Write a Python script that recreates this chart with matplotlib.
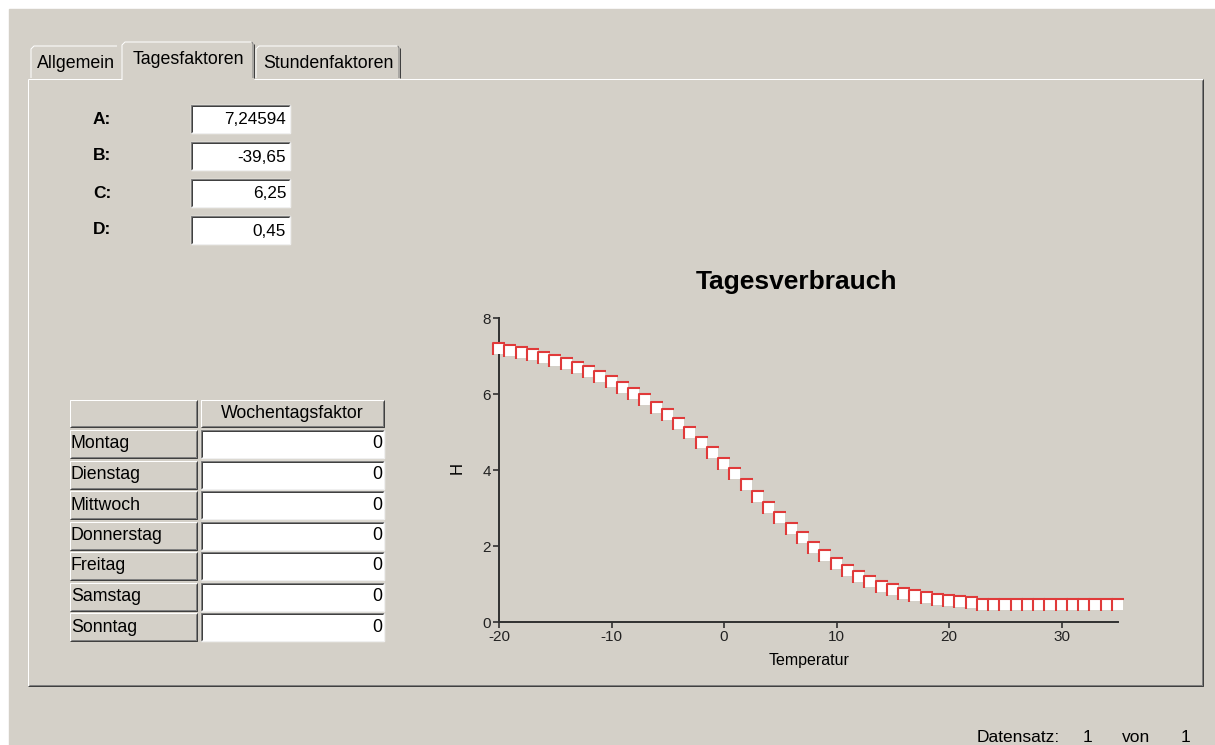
import matplotlib
matplotlib.use("Agg")
import matplotlib.pyplot as plt
import numpy as np
from matplotlib.patches import Rectangle
from matplotlib.path import Path
from matplotlib.markers import MarkerStyle

plt.rcParams['font.family'] = ['Liberation Sans', 'DejaVu Sans']
plt.rcParams['axes.unicode_minus'] = False

# --- data ---
param_names = ["A:", "B:", "C:", "D:"]
param_values = ["7,24594", "-39,65", "6,25", "0,45"]
weekdays = ["Montag", "Dienstag", "Mittwoch", "Donnerstag", "Freitag", "Samstag", "Sonntag"]
weekday_factor = [0, 0, 0, 0, 0, 0, 0]
tabs = ["Allgemein", "Tagesfaktoren", "Stundenfaktoren"]

temperature = np.arange(-20, 36)
h_values = [7.19, 7.14, 7.08, 7.02, 6.95, 6.87, 6.78, 6.68, 6.57, 6.45,
            6.32, 6.17, 6.01, 5.84, 5.64, 5.44, 5.21, 4.97, 4.72, 4.45,
            4.17, 3.89, 3.60, 3.30, 3.01, 2.73, 2.46, 2.20, 1.95, 1.73,
            1.53, 1.35, 1.19, 1.05, 0.93, 0.83, 0.75, 0.68, 0.63, 0.58,
            0.55, 0.52, 0.50, 0.45, 0.45, 0.45, 0.45, 0.45, 0.45, 0.45,
            0.45, 0.45, 0.45, 0.45, 0.45, 0.45]

BG = '#D4D0C8'
SHADOW = '#808080'
DARK = '#404040'
PX = 0.72  # one pixel in points at dpi 100
UI_FS = 12.8

W, H = 1215, 745
fig = plt.figure(figsize=(W / 100, H / 100), dpi=100)
fig.patch.set_facecolor('white')

ui = fig.add_axes([0, 0, 1, 1])
ui.set_xlim(0, W)
ui.set_ylim(H, 0)
ui.axis('off')
ui.add_patch(Rectangle((9, 9), W, H, color=BG, zorder=0))


def line(xs, ys, c, lw=1):
    ui.plot(xs, ys, color=c, lw=lw * PX, solid_capstyle='butt', zorder=2)


def raised(x0, y0, x1, y1):
    ui.add_patch(Rectangle((x0, y0), x1 - x0, y1 - y0, color=BG, zorder=1))
    line([x0, x0, x1], [y1, y0, y0], 'white')
    line([x0 + 1, x1 - 1, x1 - 1], [y1 - 1, y1 - 1, y0 + 1], SHADOW)
    line([x0, x1, x1], [y1, y1, y0], DARK)


def sunken(x0, y0, x1, y1):
    ui.add_patch(Rectangle((x0, y0), x1 - x0, y1 - y0, color='white', zorder=1))
    line([x0, x0, x1], [y1, y0, y0], SHADOW)
    line([x0 + 1, x0 + 1, x1 - 1], [y1 - 1, y0 + 1, y0 + 1], DARK)
    line([x0, x1, x1], [y1, y1, y0], '#F0F0F0')


# tab panel
px0, py0, px1, py1 = 28, 79, 1203, 686
line([px0, px0], [py1, py0], 'white')
line([px0, 122], [py0, py0], 'white')
line([254, px1], [py0, py0], 'white')
line([px0 + 1, px1 - 1, px1 - 1], [py1 - 1, py1 - 1, py0 + 1], SHADOW)
line([px0, px1, px1], [py1, py1, py0], DARK)

# tabs
tab_boxes = [(31, 120, 46), (122, 254, 42), (256, 400, 46)]
for name, (tx0, tx1, ty) in zip(tabs, tab_boxes):
    sel = name == "Tagesfaktoren"
    line([tx0, tx0, tx0 + 3, tx1 - 3], [py0 if sel else py0 - 1, ty + 3, ty, ty], 'white')
    if name != "Allgemein":
        line([tx1 - 2, tx1 - 1, tx1 - 1], [ty, ty + 2, py0 - 1], SHADOW)
        line([tx1, tx1], [ty + 2, py0 - 1], DARK)
    ui.text((tx0 + tx1) / 2, ty + 17, name,
            ha='center', va='center', fontsize=UI_FS, color='black')

# parameter fields
for i, (nm, val) in enumerate(zip(param_names, param_values)):
    yc = 119 + i * 37
    ui.text(93, yc, nm, ha='left', va='center', fontsize=12.5, weight='bold')
    sunken(191, yc - 14, 290, yc + 14)
    ui.text(286, yc + 1, val, ha='right', va='center', fontsize=12.3, zorder=3)

# weekday table
raised(70, 400, 197, 427)
raised(201, 400, 384, 427)
ui.text(292, 414, "Wochentagsfaktor", ha='center', va='center', fontsize=UI_FS, zorder=3)
for i, (day, f) in enumerate(zip(weekdays, weekday_factor)):
    y0 = 430 + i * 30.5
    raised(70, y0, 197, y0 + 28)
    ui.text(71, y0 + 14, day, ha='left', va='center', fontsize=UI_FS, zorder=3)
    sunken(201, y0, 384, y0 + 28)
    ui.text(382, y0 + 14, str(f), ha='right', va='center', fontsize=UI_FS, zorder=3)

# footer
ui.text(977, 737, "Datensatz:", ha='left', va='center', fontsize=12.5)
ui.text(1088, 737, "1", ha='center', va='center', fontsize=12.5)
ui.text(1136, 737, "von", ha='center', va='center', fontsize=12.5)
ui.text(1185, 737, "1", ha='center', va='center', fontsize=12.5)

# chart
ax = fig.add_axes([499 / W, 1 - 622 / H, 619 / W, 304 / H])
ax.patch.set_visible(False)
ax.set_xlim(-20, 35)
ax.set_ylim(0, 8)
for s in ['top', 'right']:
    ax.spines[s].set_visible(False)
for s in ['left', 'bottom']:
    ax.spines[s].set_color('#303030')
    ax.spines[s].set_linewidth(1.4)
ax.set_xticks([-20, -10, 0, 10, 20, 30])
ax.set_yticks([0, 2, 4, 6, 8])
ax.tick_params(direction='out', length=4, width=1.2, color='#303030',
               labelsize=11, labelcolor='#222222', pad=2)

corner = MarkerStyle(Path([(-1, -1), (-1, 1), (1, 1)],
                          [Path.MOVETO, Path.LINETO, Path.LINETO]),
                     fillstyle='none', joinstyle='miter')
ax.plot(temperature, h_values, ls='none', marker='s', ms=7.8,
        mfc='white', mec='white', mew=0, clip_on=False, zorder=3)
ax.plot(temperature, h_values, ls='none', marker=corner, ms=8,
        mfc='none', mec='#E03A3A', mew=1.5, clip_on=False, zorder=4)

fig.text(796 / W, 1 - 282 / H, "Tagesverbrauch", ha='center', va='center',
         fontsize=19, weight='bold')
fig.text(457 / W, 1 - 468 / H, "H", ha='center', va='center', rotation=90, fontsize=12)
fig.text(809 / W, 1 - 661 / H, "Temperatur", ha='center', va='center', fontsize=11.5)

fig.savefig("out.png", dpi=100, facecolor=fig.get_facecolor())
